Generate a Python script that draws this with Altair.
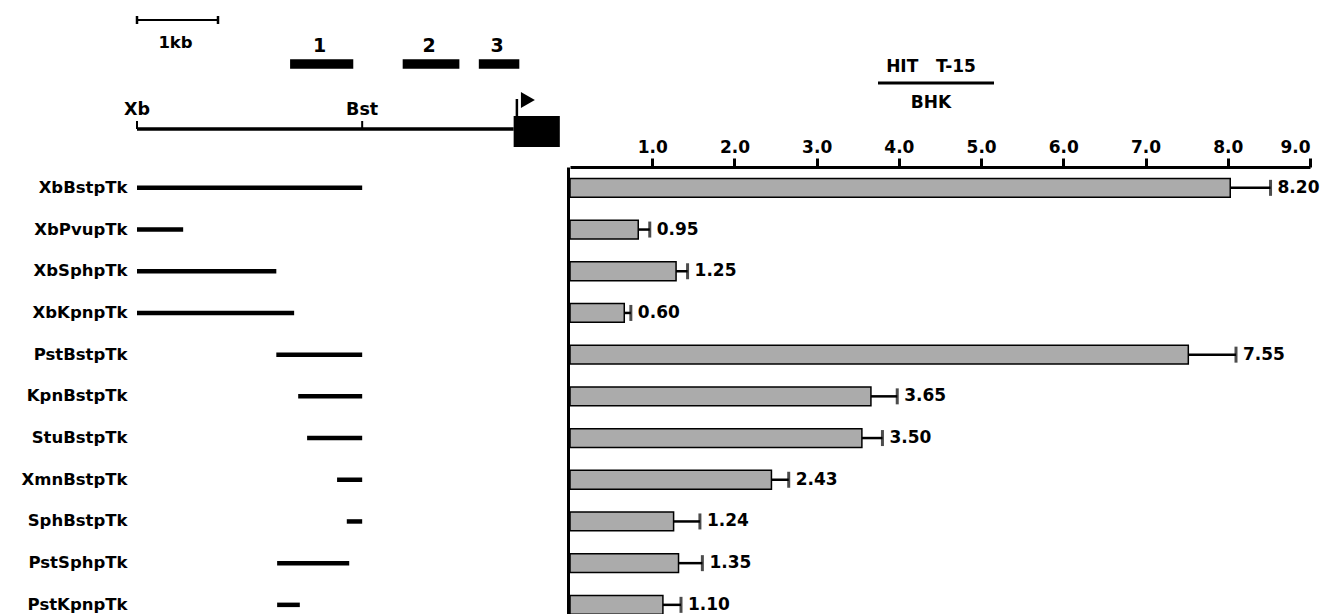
import altair as alt
import pandas as pd

# ---------------- data ----------------
constructs = ["XbBstpTk", "XbPvupTk", "XbSphpTk", "XbKpnpTk", "PstBstpTk",
              "KpnBstpTk", "StuBstpTk", "XmnBstpTk", "SphBstpTk", "PstSphpTk",
              "PstKpnpTk"]
# promoter fragment extent in kb (from the Xb site)
frag_start_kb = [0.00, 0.00, 0.00, 0.00, 1.72, 1.99, 2.10, 2.47, 2.59, 1.73, 1.73]
frag_end_kb = [2.78, 0.57, 1.72, 1.94, 2.78, 2.78, 2.78, 2.78, 2.78, 2.62, 2.01]
# relative activity: bar length, end of error bar, printed value
bar_values = [8.03, 0.83, 1.29, 0.66, 7.52, 3.66, 3.55, 2.45, 1.26, 1.32, 1.13]
err_high = [8.52, 0.97, 1.43, 0.74, 8.10, 3.98, 3.80, 2.66, 1.58, 1.61, 1.35]
value_labels = ["8.20", "0.95", "1.25", "0.60", "7.55", "3.65", "3.50",
                "2.43", "1.24", "1.35", "1.10"]
tick_values = [1.0, 2.0, 3.0, 4.0, 5.0, 6.0, 7.0, 8.0, 9.0]

# restriction map
site_names = ["Xb", "Bst"]
site_kb = [0.00, 2.78]
probe_names = ["1", "2", "3"]
probe_start_kb = [1.89, 3.28, 4.22]
probe_end_kb = [2.67, 3.98, 4.72]
scale_bar_kb = [0.0, 1.0]
scale_bar_label = "1kb"
map_line_kb = [0.0, 4.65]
tk_box_kb = [4.65, 5.22]
tss_kb = [4.69]

legend_top = "HIT\u00a0\u00a0\u00a0T-15"
legend_bottom = "BHK"

# ---------------- tables ----------------
rows = pd.DataFrame({"construct": constructs, "start": frag_start_kb,
                     "end": frag_end_kb, "value": bar_values,
                     "hi": err_high, "label": value_labels})
sites = pd.DataFrame({"site": site_names, "kb": site_kb})
probes = pd.DataFrame({"probe": probe_names, "start": probe_start_kb,
                       "end": probe_end_kb})
scalebar = pd.DataFrame({"start": [scale_bar_kb[0]], "end": [scale_bar_kb[1]],
                         "label": [scale_bar_label]})
mapline = pd.DataFrame({"start": [map_line_kb[0]], "end": [map_line_kb[1]]})
tkbox = pd.DataFrame({"start": [tk_box_kb[0]], "end": [tk_box_kb[1]]})
tss = pd.DataFrame({"kb": tss_kb})
legend = pd.DataFrame({"top": [legend_top], "bottom": [legend_bottom]})

FONT = "DejaVu Sans"

# ---------------- scales (layout) ----------------
def KB():
    return alt.Scale(domain=[0, 5], range=[129, 534], nice=False, zero=False)

def VAL():
    return alt.Scale(domain=[0, 9], range=[562, 1302], nice=False, zero=True)

def YS():
    return alt.Scale(domain=constructs, range=[159, 617.7],
                     paddingInner=0.55, paddingOuter=0.275)

base = alt.Chart(rows)

# construct lines + row labels
lines = base.mark_rule(color="black", strokeWidth=4.5, strokeCap="butt").encode(
    x=alt.X("start:Q", scale=KB(), axis=None),
    x2="end:Q",
    y=alt.Y("construct:N", scale=YS(), title=None,
            axis=alt.Axis(orient="left", offset=-119, domain=False, ticks=False,
                          tickSize=0, labelPadding=0, labelFont=FONT,
                          labelFontSize=16.5, labelFontWeight="bold",
                          labelColor="black", labelLimit=0)),
)

bars = base.mark_bar(fill="#ababab", stroke="black", strokeWidth=1.5).encode(
    x=alt.X("value:Q", scale=VAL(), title=None,
            axis=alt.Axis(orient="top", offset=-159, values=tick_values,
                          format=".1f", domainWidth=3, domainColor="black",
                          tickWidth=3, tickColor="black", tickSize=9,
                          labelFont=FONT, labelFontSize=17,
                          labelFontWeight="bold", labelColor="black",
                          labelPadding=2, grid=False)),
    y=alt.Y("construct:N", scale=YS(), title=None,
            axis=alt.Axis(orient="left", offset=-560, domain=True,
                          domainWidth=3, domainColor="black", labels=False,
                          ticks=False, grid=False)),
)

errs = base.mark_rule(color="black", strokeWidth=2.5).encode(
    x=alt.X("value:Q", scale=VAL(), axis=None),
    x2="hi:Q",
    y=alt.Y("construct:N", scale=YS(), axis=None),
)

caps = base.mark_tick(color="black", thickness=3, size=16).encode(
    x=alt.X("hi:Q", scale=VAL(), axis=None),
    y=alt.Y("construct:N", scale=YS(), axis=None),
)

vlabels = base.mark_text(align="left", baseline="middle", dx=7, font=FONT,
                         fontSize=17, fontWeight="bold", color="black").encode(
    x=alt.X("hi:Q", scale=VAL(), axis=None),
    y=alt.Y("construct:N", scale=YS(), axis=None),
    text="label:N",
)

# ---------------- restriction map header ----------------
sb_line = alt.Chart(scalebar).mark_rule(color="black", strokeWidth=2).encode(
    x=alt.X("start:Q", scale=KB(), axis=None), x2="end:Q", y=alt.value(12))
sb_ends = alt.Chart(scalebar).transform_fold(["start", "end"], as_=["k", "pos"]).mark_rule(
    color="black", strokeWidth=2.5).encode(
    x=alt.X("pos:Q", scale=KB(), axis=None), y=alt.value(8), y2=alt.value(16))
sb_text = alt.Chart(scalebar).transform_calculate(
    mid="(datum.start + datum.end) / 2").mark_text(
    font=FONT, fontSize=16.5, fontWeight="bold", baseline="middle", dx=-2,
    color="black").encode(
    x=alt.X("mid:Q", scale=KB(), axis=None), y=alt.value(35), text="label:N")

probe_bars = alt.Chart(probes).mark_rule(color="black", strokeWidth=9.5,
                                         strokeCap="butt").encode(
    x=alt.X("start:Q", scale=KB(), axis=None), x2="end:Q", y=alt.value(56))
probe_text = alt.Chart(probes).transform_calculate(
    mid="(datum.start + datum.end) / 2").mark_text(
    font=FONT, fontSize=19, fontWeight="bold", baseline="middle",
    color="black", dx=-2).encode(
    x=alt.X("mid:Q", scale=KB(), axis=None), y=alt.value(38), text="probe:N")

map_rule = alt.Chart(mapline).mark_rule(color="black", strokeWidth=3.5).encode(
    x=alt.X("start:Q", scale=KB(), axis=None), x2="end:Q", y=alt.value(121))
site_ticks = alt.Chart(sites).mark_rule(color="black", strokeWidth=2).encode(
    x=alt.X("kb:Q", scale=KB(), axis=None), y=alt.value(113), y2=alt.value(121))
site_text = alt.Chart(sites).mark_text(
    font=FONT, fontSize=17.5, fontWeight="bold", baseline="middle",
    color="black").encode(
    x=alt.X("kb:Q", scale=KB(), axis=None), y=alt.value(102), text="site:N")
box = alt.Chart(tkbox).mark_rect(color="black").encode(
    x=alt.X("start:Q", scale=KB(), axis=None), x2="end:Q",
    y=alt.value(108), y2=alt.value(139))
stem = alt.Chart(tss).mark_rule(color="black", strokeWidth=2.5).encode(
    x=alt.X("kb:Q", scale=KB(), axis=None), y=alt.value(91), y2=alt.value(108))
head = alt.Chart(tss).mark_point(shape="triangle-right", filled=True,
                                 color="black", size=260, opacity=1,
                                 xOffset=11).encode(
    x=alt.X("kb:Q", scale=KB(), axis=None), y=alt.value(92))

# ---------------- cell line legend ----------------
leg_top = alt.Chart(legend).mark_text(
    font=FONT, fontSize=17, fontWeight="bold", baseline="middle",
    color="black").encode(x=alt.value(923), y=alt.value(59), text="top:N")
leg_rule = alt.Chart(legend).mark_rule(color="black", strokeWidth=3).encode(
    x=alt.value(870), x2=alt.value(986), y=alt.value(75))
leg_bot = alt.Chart(legend).mark_text(
    font=FONT, fontSize=17, fontWeight="bold", baseline="middle",
    color="black").encode(x=alt.value(923), y=alt.value(95), text="bottom:N")

chart = alt.layer(
    lines, bars, errs, caps, vlabels,
    sb_line, sb_ends, sb_text, probe_bars, probe_text,
    map_rule, site_ticks, site_text, box, stem, head,
    leg_top, leg_rule, leg_bot,
).resolve_scale(x="independent").resolve_axis(x="independent", y="independent").properties(
    width=1312, height=606, padding=0,
    autosize=alt.AutoSizeParams(type="none"),
    background="white",
).configure_view(stroke=None)

chart.save("out.html", embed_options={"renderer": "svg", "actions": False})
